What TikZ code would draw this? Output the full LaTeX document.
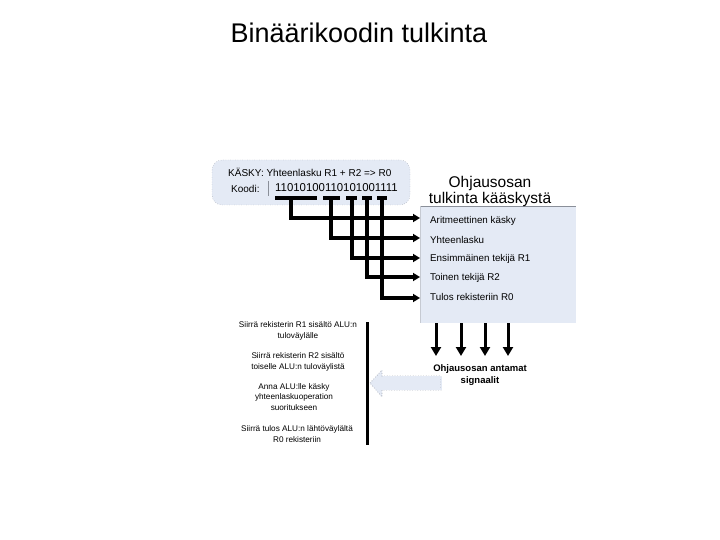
\documentclass[tikz,border=0pt]{standalone}
\usepackage{fontspec}
\setmainfont{Liberation Sans}
\usetikzlibrary{arrows.meta,calc}
\definecolor{boxblue}{HTML}{E4EAF5}
\definecolor{edgegray}{HTML}{8A8F99}
\tikzset{
  bus/.style={line width=3.1pt,draw=black},
  busarrow/.style={bus,-{Triangle[length=7pt,width=8pt]}},
  sig/.style={line width=3pt,-{Triangle[length=9pt,width=10pt]}},
  item/.style={anchor=west,font=\fontsize{9.8}{11}\selectfont,inner sep=0pt},
  step1/.style={align=center,font=\fontsize{8.2}{10.5}\selectfont,inner sep=0pt},
}
\begin{document}
\begin{tikzpicture}[x=1pt,y=-1pt]
\useasboundingbox (0,0) rectangle (720,540);
\node[font=\fontsize{27}{30}\selectfont] (title) at (359,33) {Binäärikoodin tulkinta};
% top instruction box
\draw[fill=boxblue,draw=edgegray,dotted,rounded corners=10pt] (212,160) rectangle (410,205);
\node[anchor=west,font=\fontsize{10}{12}\selectfont,inner sep=0pt] (cmd) at (228,172) {KÄSKY: Yhteenlasku R1 + R2 => R0};
\node[anchor=west,font=\fontsize{10}{12}\selectfont,inner sep=0pt] (koodi) at (231,189) {Koodi:};
\draw[edgegray,line width=0.6pt] (268,181) -- (268,196);
\node[anchor=west,font=\fontsize{11.4}{12}\selectfont,inner sep=0pt] (code) at (275,188) {11010100110101001111};
% right box
\node[draw=none,fill=boxblue,minimum width=156pt,minimum height=117pt,anchor=north west,inner sep=0pt] (box) at (420,206) {};
\draw[edgegray,line width=0.8pt] (box.north west) -- (box.north east);
\draw[boxblue!70!gray,line width=0.5pt] (box.north west) -- (box.south west);
\node[align=center,font=\fontsize{15.5}{16}\selectfont,inner sep=0pt] (head) at (490,191) {Ohjausosan\\tulkinta kääskystä};
\node[item] (i1) at (430,221) {Aritmeettinen käsky};
\node[item] (i2) at (430,240) {Yhteenlasku};
\node[item] (i3) at (430,259) {Ensimmäinen tekijä R1};
\node[item] (i4) at (430,278) {Toinen tekijä R2};
\node[item] (i5) at (430,297) {Tulos rekisteriin R0};
% bus segments under the code
\draw[bus] (275,198) -- (317,198);
\draw[bus] (323,198) -- (340,198);
\draw[bus] (346,198) -- (357,198);
\draw[bus] (362,198) -- (372,198);
\draw[bus] (377,198) -- (387,198);
\coordinate (b1) at (291,198);
\coordinate (b2) at (331,198);
\coordinate (b3) at (352,198);
\coordinate (b4) at (367,198);
\coordinate (b5) at (382,198);
\draw[busarrow] (b1) |- (box.west |- 0,218);
\draw[busarrow] (b2) |- (box.west |- 0,238);
\draw[busarrow] (b3) |- (box.west |- 0,258);
\draw[busarrow] (b4) |- (box.west |- 0,277);
\draw[busarrow] (b5) |- (box.west |- 0,298);
% signals
\node[align=center,font=\bfseries\fontsize{9.5}{12.5}\selectfont,inner sep=0pt] (sigl) at (480,375) {Ohjausosan antamat\\signaalit};
\coordinate (s1) at (436,356);
\coordinate (s2) at (461,356);
\coordinate (s3) at (485,356);
\coordinate (s4) at (508,356);
\draw[sig] (box.south -| s1) -- (s1);
\draw[sig] (box.south -| s2) -- (s2);
\draw[sig] (box.south -| s3) -- (s3);
\draw[sig] (box.south -| s4) -- (s4);
% hollow block arrow
\coordinate (htip) at (370,383);
\draw[fill=boxblue,draw=edgegray,dotted,line width=0.6pt]
  (htip) -- (382,370) -- (382,376) -- (441,376) -- (441,390) -- (382,390) -- (382,397) -- cycle;
\draw[boxblue,line width=1pt] (441,376.5) -- (441,389.5) -- (383,389.5);
\draw[boxblue,line width=1pt] (383,376.5) -- (441,376.5);
% vertical line
\coordinate (vt) at (367,322);
\coordinate (vb) at (367,445);
\draw[line width=3pt] (vt) -- (vb);
% steps
\node[step1] (st1) at (298,331) {Siirrä rekisterin R1 sisältö ALU:n\\tuloväylälle};
\node[step1] (st2) at (298,362) {Siirrä rekisterin R2 sisältö\\toiselle ALU:n tuloväylistä};
\node[step1] (st3) at (294,397) {Anna ALU:lle käsky\\yhteenlaskuoperation\\suoritukseen};
\node[step1] (st4) at (297,434) {Siirrä tulos ALU:n lähtöväylältä\\R0 rekisteriin};
\end{tikzpicture}
\end{document}
